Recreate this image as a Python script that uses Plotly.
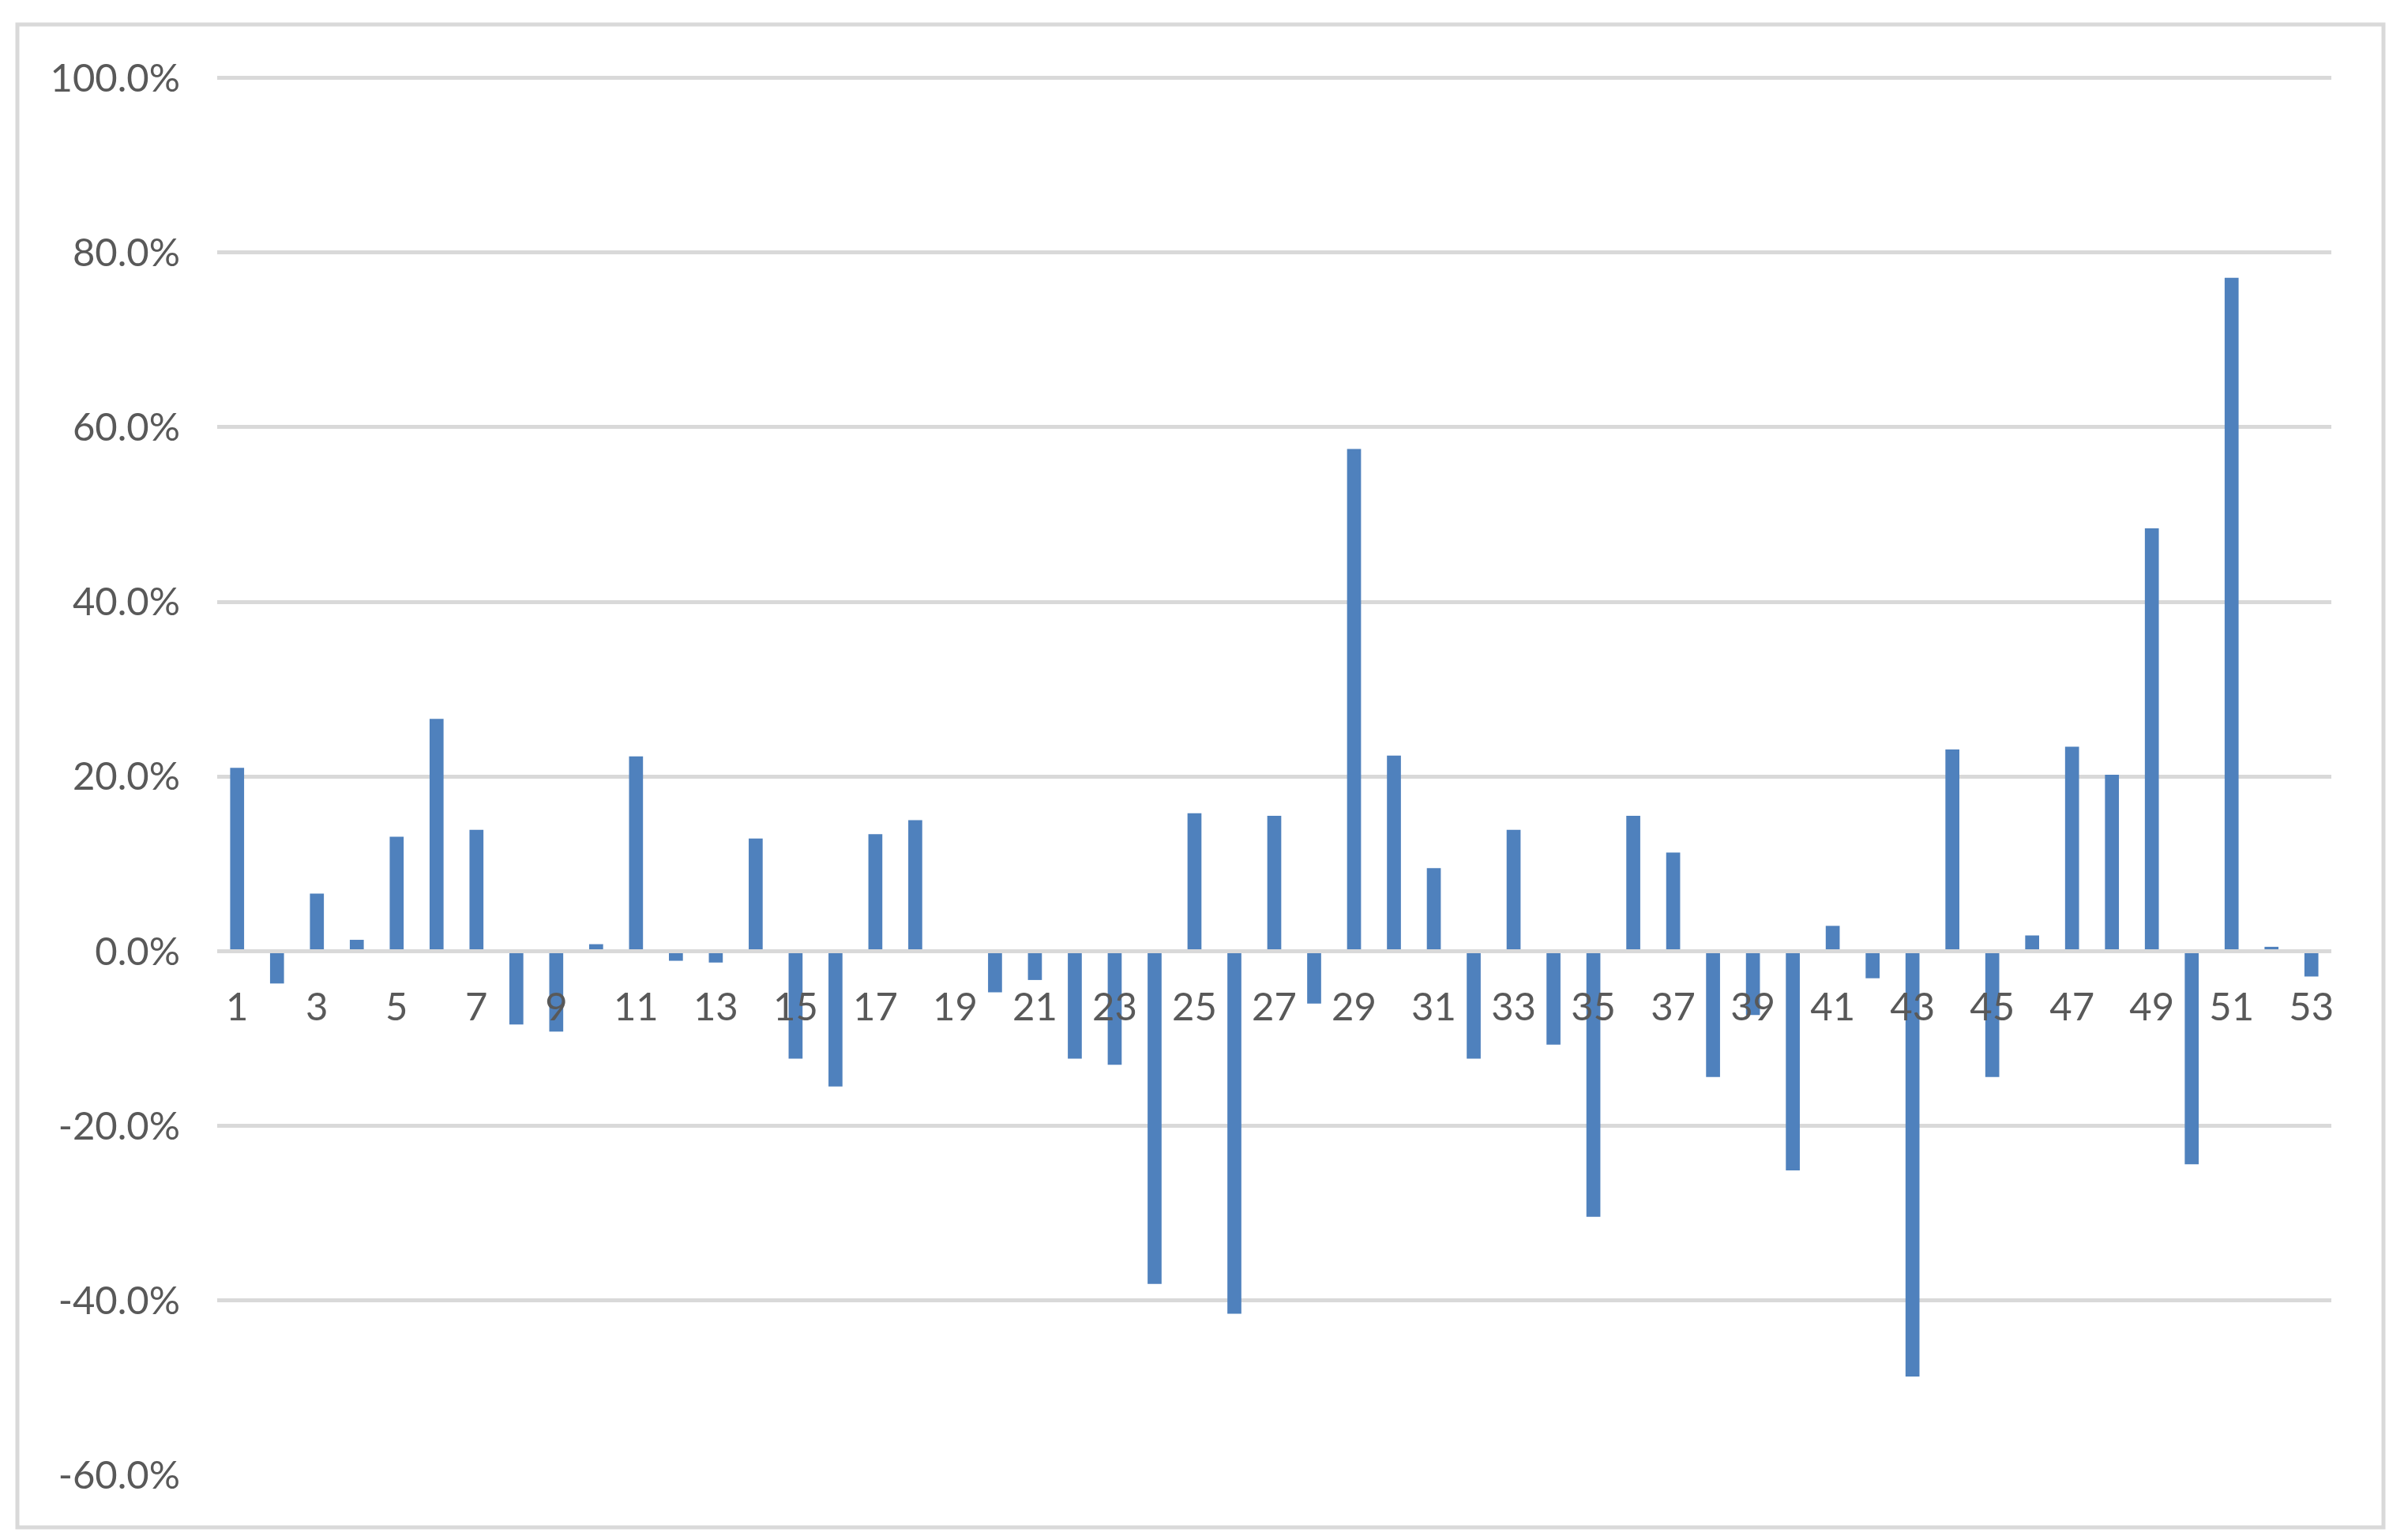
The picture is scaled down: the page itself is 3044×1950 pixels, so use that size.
import plotly.graph_objects as go

# ---- data ----
categories = list(range(1, 54))
values_pct = [
    21.0, -3.7, 6.6, 1.3, 13.1, 26.6, 13.9, -8.4, -9.2, 0.8,
    22.3, -1.1, -1.3, 12.9, -12.3, -15.5, 13.4, 15.0, 0.0, -4.7,
    -3.3, -12.3, -13.0, -38.1, 15.8, -41.5, 15.5, -6.0, 57.5, 22.4,
    9.5, -12.3, 13.9, -10.7, -30.4, 15.5, 11.3, -14.4, -7.3, -25.1,
    2.9, -3.1, -48.7, 23.1, -14.4, 1.8, 23.4, 20.2, 48.4, -24.4,
    77.1, 0.5, -2.9,
]
y_ticks = [-60, -40, -20, 0, 20, 40, 60, 80, 100]
x_ticks = list(range(1, 54, 2))

# ---- layout constants (pixels) ----
W, H = 3044, 1950
ML, MR, MB = 275, 92, 82
YMIN, YMAX = -60, 100.4
PX_PER_UNIT = 11.06
plot_h = (YMAX - YMIN) * PX_PER_UNIT
MT = int(round(H - MB - plot_h))
plot_h = H - MB - MT
plot_w = W - ML - MR

GRID = "#d9d9d9"
TXT = "#595959"
BAR = "#4f81bd"
FONT = "Lato, Calibri, 'Liberation Sans', sans-serif"
FS = 49


def px_to_paper_x(px):
    return (px - ML) / plot_w


def px_to_paper_y(py):
    return (H - MB - py) / plot_h


fig = go.Figure(
    go.Bar(
        x=categories,
        y=values_pct,
        marker=dict(color=BAR, line=dict(width=0)),
        width=0.35,
    )
)

fig.update_layout(
    width=W,
    height=H,
    margin=dict(l=ML, r=MR, t=MT, b=MB, pad=0),
    paper_bgcolor="white",
    plot_bgcolor="white",
    showlegend=False,
    font=dict(family=FONT, size=FS, color=TXT),
    xaxis=dict(
        range=[0.5, 53.5],
        tickmode="array",
        tickvals=x_ticks,
        ticktext=[str(v) for v in x_ticks],
        showgrid=False,
        zeroline=False,
        showline=False,
        ticks="",
        anchor="free",
        position=(0 - YMIN) / (YMAX - YMIN),
        ticklabelstandoff=38,
        tickfont=dict(family=FONT, size=FS, color=TXT),
    ),
    yaxis=dict(
        range=[YMIN, YMAX],
        tickmode="array",
        tickvals=y_ticks,
        ticktext=[f"{v:.1f}%" for v in y_ticks],
        showgrid=True,
        gridcolor=GRID,
        gridwidth=5,
        zeroline=False,
        showline=False,
        ticks="",
        ticklabelstandoff=46,
        tickfont=dict(family=FONT, size=FS, color=TXT),
    ),
)

# zero axis line drawn above bars (as in the source)
fig.add_shape(
    type="line", xref="paper", yref="y",
    x0=0, x1=1, y0=0, y1=0,
    line=dict(color=GRID, width=5), layer="above",
)

# chart-area border
fig.add_shape(
    type="rect", xref="paper", yref="paper",
    x0=px_to_paper_x(22), x1=px_to_paper_x(3018),
    y0=px_to_paper_y(1934), y1=px_to_paper_y(31),
    line=dict(color=GRID, width=5), fillcolor="rgba(0,0,0,0)", layer="below",
)

fig.write_html(
    "out.html",
    config={"displayModeBar": False},
    post_script="document.body.style.margin='0';",
)
